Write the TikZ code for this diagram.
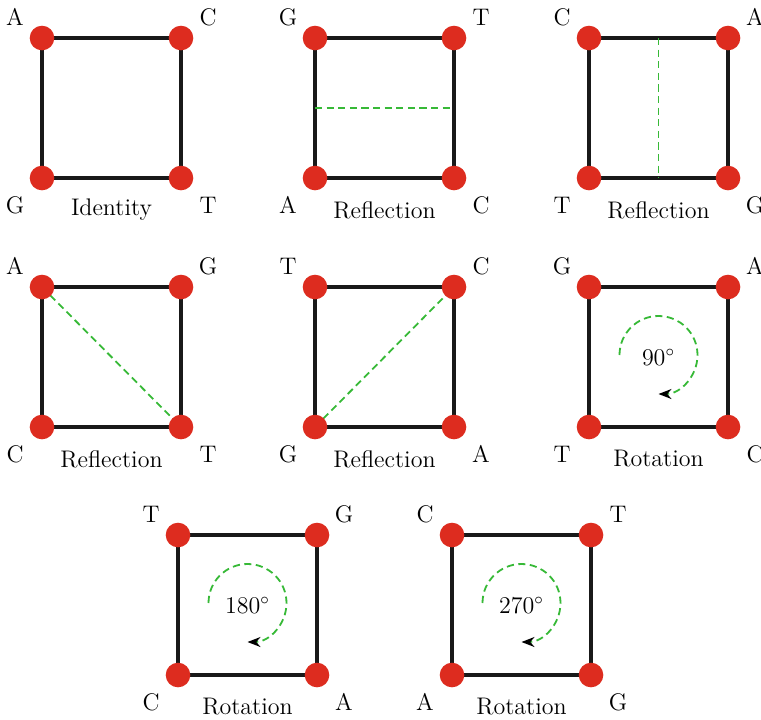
\documentclass[tikz,border=0pt]{standalone}
\usetikzlibrary{arrows.meta,calc}
\definecolor{dotred}{RGB}{221,44,31}
\definecolor{refgreen}{RGB}{55,185,55}
\definecolor{sidegray}{RGB}{25,25,25}
\tikzset{
  dot/.style={circle,fill=dotred,minimum size=12.3pt,inner sep=0pt},
  side/.style={line width=2.3pt,draw=sidegray},
  mirror/.style={draw=refgreen,line width=0.9pt,dash pattern=on 3.6pt off 2.2pt},
  lbl/.style={font=\fontsize{12}{14}\selectfont,inner sep=0pt},
}
% #1 name, #2 left x, #3 top y, #4 TL, #5 TR, #6 BL, #7 BR, #8 title
\newcommand\symsq[8]{%
  \coordinate (#1tl) at (#2,#3);
  \coordinate (#1tr) at (#2+139,#3);
  \coordinate (#1bl) at (#2,#3+140);
  \coordinate (#1br) at (#2+139,#3+140);
  \coordinate (#1c) at (#2+69.5,#3+70);
  \draw[side] (#1tl) -- (#1tr) -- (#1br) -- (#1bl) -- cycle;
  \node[lbl] (#1lTL) at (#2-27,#3-21) {#4};
  \node[lbl] (#1lTR) at (#2+139+27,#3-21) {#5};
  \node[lbl] (#1lBL) at (#2-27,#3+140+27) {#6};
  \node[lbl] (#1lBR) at (#2+139+27,#3+140+27) {#7};
  \node[lbl] (#1title) at (#2+69.5,#3+140+32) {#8};
}
\newcommand\vertdots[1]{%
  \node[dot] (#1TL) at (#1tl) {};
  \node[dot] (#1TR) at (#1tr) {};
  \node[dot] (#1BL) at (#1bl) {};
  \node[dot] (#1BR) at (#1br) {};
}
\newcommand\rotsq[2]{% #1 name, #2 angle text
  \draw[mirror,-{Stealth[length=6.5pt,width=5pt,color=black]}]
    ($(#1c)+(-19.5pt,1pt)$) arc[start angle=180,end angle=-90,radius=19.5pt];
  \node[lbl] (#1deg) at (#1c) {$#2^\circ$};
}
\begin{document}
\begin{tikzpicture}[x=0.5pt,y=-0.5pt]
\useasboundingbox (0,0) rectangle (761,719);
\symsq{a}{42}{38}{A}{C}{G}{T}{Identity}
\symsq{b}{315}{38}{G}{T}{A}{C}{Reflection}
\symsq{c}{589}{38}{C}{A}{T}{G}{Reflection}
\symsq{d}{42}{287}{A}{G}{C}{T}{Reflection}
\symsq{e}{315}{287}{T}{C}{G}{A}{Reflection}
\symsq{f}{589}{287}{G}{A}{T}{C}{Rotation}
\symsq{g}{178}{535}{T}{G}{C}{A}{Rotation}
\symsq{h}{452}{535}{C}{T}{A}{G}{Rotation}
% reflections
\draw[mirror] ($(btl)!0.5!(bbl)$) coordinate (bm1) -- ($(btr)!0.5!(bbr)$) coordinate (bm2);
\draw[mirror] ($(ctl)!0.5!(ctr)$) coordinate (cm1) -- ($(cbl)!0.5!(cbr)$) coordinate (cm2);
\draw[mirror] (dtl) -- (dbr);
\draw[mirror] (ebl) -- (etr);
% rotations
\rotsq{f}{90}
\rotsq{g}{180}
\rotsq{h}{270}
% vertices
\vertdots{a}\vertdots{b}\vertdots{c}\vertdots{d}\vertdots{e}\vertdots{f}\vertdots{g}\vertdots{h}
\end{tikzpicture}
\end{document}
